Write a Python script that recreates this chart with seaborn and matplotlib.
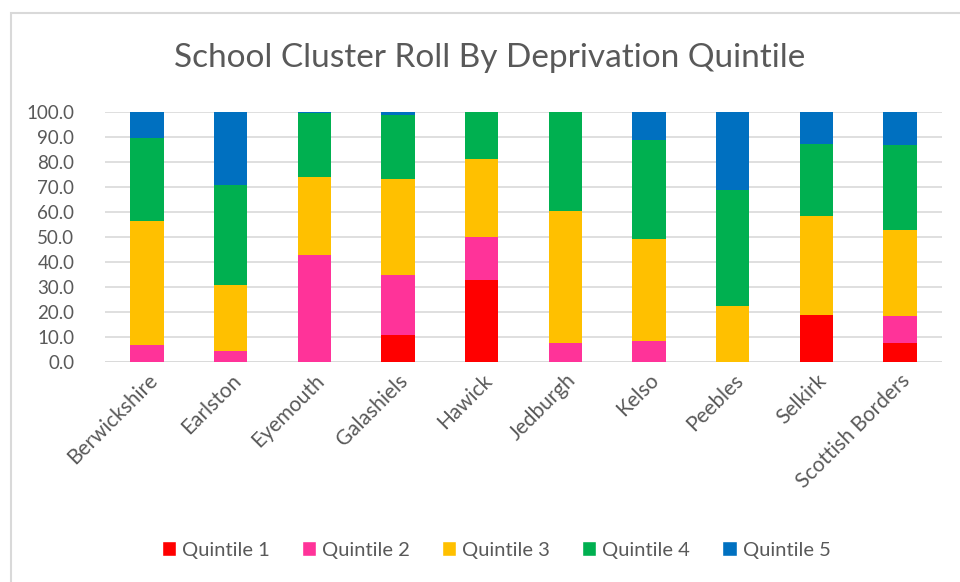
import numpy as np
import pandas as pd
import matplotlib
matplotlib.use("Agg")
import matplotlib.pyplot as plt
from matplotlib.patches import Rectangle, Patch
import seaborn as sns

# ---- data (percent of roll per quintile) ----
clusters = ["Berwickshire", "Earlston", "Eyemouth", "Galashiels", "Hawick",
            "Jedburgh", "Kelso", "Peebles", "Selkirk", "Scottish Borders"]
q1 = [0.0, 0.0, 0.0, 10.9, 32.9, 0.0, 0.0, 0.0, 18.7, 7.7]
q2 = [6.8, 4.3, 42.7, 24.1, 17.0, 7.7, 8.4, 0.0, 0.3, 10.8]
q3 = [49.5, 26.5, 31.2, 38.4, 31.2, 52.9, 40.9, 22.6, 39.5, 34.4]
q4 = [33.4, 40.0, 25.6, 25.5, 18.9, 39.4, 39.5, 46.2, 28.9, 33.8]
q5 = [10.3, 29.2, 0.5, 1.1, 0.0, 0.0, 11.2, 31.2, 12.6, 13.3]
quintiles = ["Quintile 1", "Quintile 2", "Quintile 3", "Quintile 4", "Quintile 5"]
colors = ["#FF0000", "#FF3399", "#FFC000", "#00B050", "#0070C0"]

df = pd.DataFrame({"cluster": clusters, "Quintile 1": q1, "Quintile 2": q2,
                   "Quintile 3": q3, "Quintile 4": q4, "Quintile 5": q5})

sns.set_style("white")
plt.rcParams["font.family"] = ["Lato", "DejaVu Sans"]
txt = "#595959"

fig = plt.figure(figsize=(9.6, 5.82), dpi=100)
ax = fig.add_axes([105 / 960, 1 - 362 / 582, 837 / 960, 250 / 582])

# outer chart border
fig.patches.append(Rectangle((11 / 960, -0.05), 1.1, 1 - 13 / 582 + 0.05,
                             transform=fig.transFigure, fill=False,
                             edgecolor="#d9d9d9", linewidth=1.5, zorder=0))

bottom = np.zeros(len(clusters))
for q, c in zip(quintiles, colors):
    sns.barplot(data=df, x="cluster", y=q, color=c, width=0.4,
                bottom=bottom, ax=ax, saturation=1, linewidth=0, zorder=3)
    bottom += df[q].values

ax.set_ylim(0, 100)
ax.set_xlim(-0.5, len(clusters) - 0.5)
ax.set_yticks(np.arange(0, 101, 10))
ax.set_yticklabels([f"{v:.1f}" for v in np.arange(0, 101, 10)])
ax.yaxis.grid(True, color="#d9d9d9", linewidth=1.2, zorder=0)
ax.set_axisbelow(True)
for s in ax.spines.values():
    s.set_visible(False)
ax.axhline(0, color="#d9d9d9", linewidth=1.2, zorder=1)
ax.set_xlabel("")
ax.set_ylabel("")
ax.tick_params(axis="both", length=0, colors=txt)
ax.tick_params(axis="y", pad=22, labelsize=13.5)
ax.tick_params(axis="x", pad=6, labelsize=15)
plt.setp(ax.get_xticklabels(), rotation=45, ha="right", rotation_mode="anchor")

fig.text(490 / 960, 1 - 58 / 582, "School Cluster Roll By Deprivation Quintile",
         ha="center", va="center", fontsize=24, color=txt)

handles = [Patch(facecolor=c, label=q) for q, c in zip(quintiles, colors)]
fig.legend(handles=handles, loc="center", bbox_to_anchor=(496 / 960, 1 - 550 / 582),
           ncol=5, frameon=False, fontsize=14.5, handlelength=0.7, handleheight=0.7,
           handletextpad=0.3, columnspacing=1.6, labelcolor=txt)

fig.savefig("out.png", dpi=100)
